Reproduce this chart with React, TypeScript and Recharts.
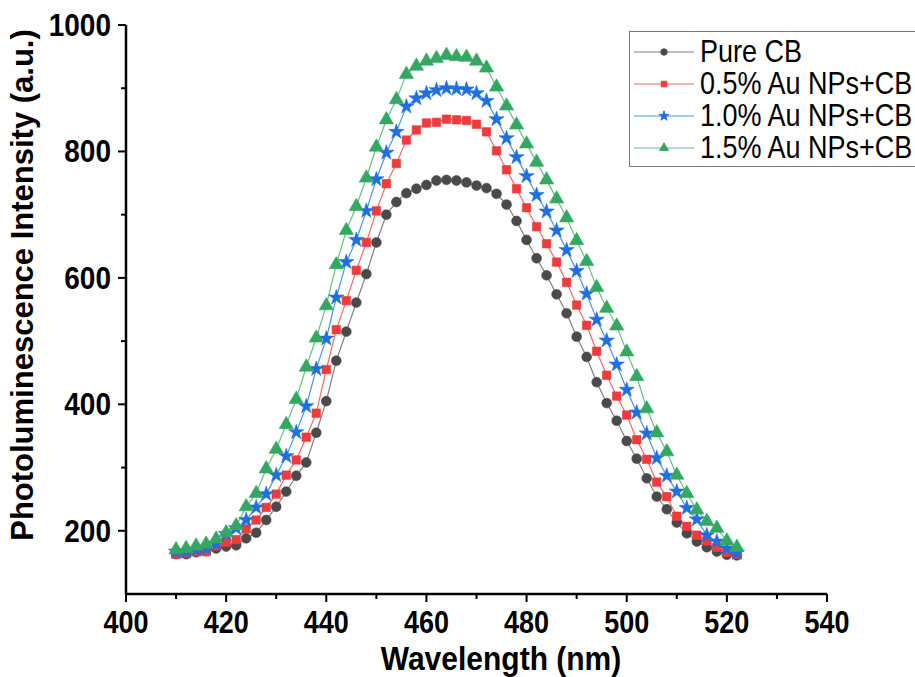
import { LineChart, Line, XAxis, YAxis, Legend, Symbols, Label } from 'recharts';

const wavelength = [
  410, 412, 414, 416, 418, 420, 422, 424, 426, 428, 430, 432, 434, 436, 438, 440, 442, 444, 446,
  448, 450, 452, 454, 456, 458, 460, 462, 464, 466, 468, 470, 472, 474, 476, 478, 480, 482, 484,
  486, 488, 490, 492, 494, 496, 498, 500, 502, 504, 506, 508, 510, 512, 514, 516, 518, 520, 522,
];

const pureCB = [
  163, 163, 166, 168, 172, 175, 177, 188, 197, 217, 238, 262, 287, 308, 355, 405, 469, 515, 561,
  606, 656, 700, 720, 734, 741, 747, 754, 755, 754, 751, 746, 742, 733, 716, 690, 660, 631, 604,
  574, 544, 507, 475, 435, 402, 374, 342, 314, 283, 254, 234, 213, 196, 183, 174, 167, 162, 161,
];

const au05 = [
  163, 165, 167, 167, 176, 182, 186, 203, 217, 237, 258, 288, 312, 348, 386, 455, 518, 564, 612,
  656, 706, 749, 781, 818, 834, 845, 846, 851, 850, 849, 843, 831, 801, 771, 741, 711, 681, 654,
  625, 593, 557, 525, 484, 446, 413, 383, 344, 313, 277, 254, 223, 207, 193, 184, 174, 166, 163,
];

const au10 = [
  167, 167, 170, 172, 179, 195, 204, 217, 237, 258, 288, 318, 356, 397, 456, 504, 569, 625, 660,
  706, 756, 798, 831, 871, 884, 892, 897, 900, 899, 898, 892, 880, 851, 821, 791, 761, 731, 705,
  675, 644, 611, 575, 534, 501, 463, 423, 387, 354, 315, 287, 262, 236, 218, 193, 183, 172, 165,
];

const au15 = [
  170, 172, 176, 179, 187, 197, 208, 238, 259, 298, 329, 368, 408, 459, 505, 556, 621, 675, 713,
  758, 807, 850, 882, 922, 935, 943, 947, 952, 950, 949, 943, 932, 902, 872, 842, 812, 783, 755,
  725, 695, 659, 626, 585, 552, 524, 483, 444, 393, 355, 325, 288, 259, 233, 215, 204, 184, 174,
];

const xTicks = [400, 410, 420, 430, 440, 450, 460, 470, 480, 490, 500, 510, 520, 530, 540];
const yTicks = [200, 300, 400, 500, 600, 700, 800, 900, 1000];

const SERIES = [
  { key: 'pure', name: 'Pure CB', values: pureCB, line: '#7f7f7f', fill: '#4a4a4a', shape: 'circle', size: 76, legendSize: 32 },
  { key: 'au05', name: '0.5% Au NPs+CB', values: au05, line: '#f06a6a', fill: '#ee3b3b', shape: 'square', size: 72, legendSize: 30 },
  { key: 'au10', name: '1.0% Au NPs+CB', values: au10, line: '#4d92ee', fill: '#1f6fe0', shape: 'star', size: 72, legendSize: 30 },
  { key: 'au15', name: '1.5% Au NPs+CB', values: au15, line: '#66c086', fill: '#34a862', shape: 'triangle', size: 88, legendSize: 34 },
];

const data = wavelength.map((w, i) => {
  const row: any = { w };
  SERIES.forEach((s) => { row[s.key] = s.values[i]; });
  return row;
});

const FONT = "'Liberation Sans', Arial, sans-serif";

const makeDot = (s: any) => (props: any) => {
  const { cx, cy, index } = props;
  if (cx == null || cy == null) return <g key={`${s.key}-${index}`} />;
  return (
    <Symbols
      key={`${s.key}-${index}`}
      cx={cx}
      cy={cy}
      type={s.shape}
      size={s.size}
      fill={s.fill}
      stroke={s.fill}
      strokeWidth={0.6}
    />
  );
};

// bold label, a bit taller than wide like the original
const TallText = ({ x, y, anchor, size, stretch = 1.13, children }: any) => (
  <text
    transform={`translate(${x} ${y}) scale(1 ${stretch})`}
    textAnchor={anchor}
    fontFamily={FONT}
    fontWeight="bold"
    fontSize={size}
    fill="#000"
  >
    {children}
  </text>
);

const XTick = (props: any) => {
  const { x, y, payload } = props;
  const major = payload.value % 20 === 0;
  return (
    <g>
      <line x1={x} y1={y} x2={x} y2={y + (major ? 8 : 5)} stroke="#000" strokeWidth={2} />
      {major && (
        <TallText x={x} y={y + 39} anchor="middle" size={27}>
          {payload.value}
        </TallText>
      )}
    </g>
  );
};

const YTick = (props: any) => {
  const { x, y, payload } = props;
  const major = payload.value % 200 === 0;
  return (
    <g>
      <line x1={x - (major ? 8 : 5)} y1={y} x2={x} y2={y} stroke="#000" strokeWidth={2} />
      {major && (
        <TallText x={x - 15} y={y + 11} anchor="end" size={28}>
          {payload.value}
        </TallText>
      )}
    </g>
  );
};

const LegendBox = () => (
  <div
    style={{
      border: '1px solid #7a7a7a',
      background: '#fff',
      width: 300,
      height: 136,
      paddingTop: 4,
      boxSizing: 'border-box',
      fontFamily: FONT,
      fontSize: 27,
      color: '#000',
    }}
  >
    {SERIES.map((s) => (
      <div key={s.key} style={{ height: 32, display: 'flex', alignItems: 'center' }}>
        <svg width={70} height={32} style={{ flex: 'none' }}>
          <line x1={4} y1={16} x2={64} y2={16} stroke={s.line} strokeWidth={1.2} />
          <Symbols cx={34} cy={16} type={s.shape as any} size={s.legendSize} fill={s.fill} stroke={s.fill} />
        </svg>
        <span style={{ whiteSpace: 'nowrap', lineHeight: '32px', display: 'inline-block', transform: 'scaleY(1.13)' }}>
          {s.name}
        </span>
      </div>
    ))}
  </div>
);

export default function App() {
  return (
    <div style={{ position: 'absolute', left: 0, top: 0, width: 915, height: 677, overflow: 'hidden', background: '#fff' }}>
      <LineChart width={915} height={677} data={data} margin={{ top: 25, right: 88, left: 0, bottom: 0 }}>
        <XAxis
          dataKey="w"
          type="number"
          domain={[400, 540]}
          ticks={xTicks}
          interval={0}
          height={83}
          tickSize={0}
          tickMargin={0}
          tickLine={false}
          axisLine={{ stroke: '#000', strokeWidth: 2.5 }}
          tick={<XTick />}
        >
          <Label
            content={() => (
              <TallText x={501} y={670} anchor="middle" size={30} stretch={1.08}>
                Wavelength (nm)
              </TallText>
            )}
          />
        </XAxis>
        <YAxis
          type="number"
          domain={[100, 1000]}
          ticks={yTicks}
          interval={0}
          width={126}
          tickSize={0}
          tickMargin={0}
          tickLine={false}
          axisLine={{ stroke: '#000', strokeWidth: 2.5 }}
          tick={<YTick />}
        >
          <Label
            content={() => (
              <text
                x={33}
                y={285}
                transform="rotate(-90 33 285)"
                textAnchor="middle"
                fontFamily={FONT}
                fontWeight="bold"
                fontSize={31}
                fill="#000"
              >
                Photoluminescence Intensity (a.u.)
              </text>
            )}
          />
        </YAxis>
        <Legend
          layout="vertical"
          align="center"
          verticalAlign="middle"
          content={<LegendBox />}
          wrapperStyle={{ position: 'absolute', left: 629, top: 31, width: 300, height: 136 }}
        />
        {SERIES.map((s) => (
          <Line
            key={s.key}
            dataKey={s.key}
            name={s.name}
            type="linear"
            stroke={s.line}
            strokeWidth={1.2}
            dot={makeDot(s)}
            activeDot={false}
            isAnimationActive={false}
          />
        ))}
      </LineChart>
    </div>
  );
}
